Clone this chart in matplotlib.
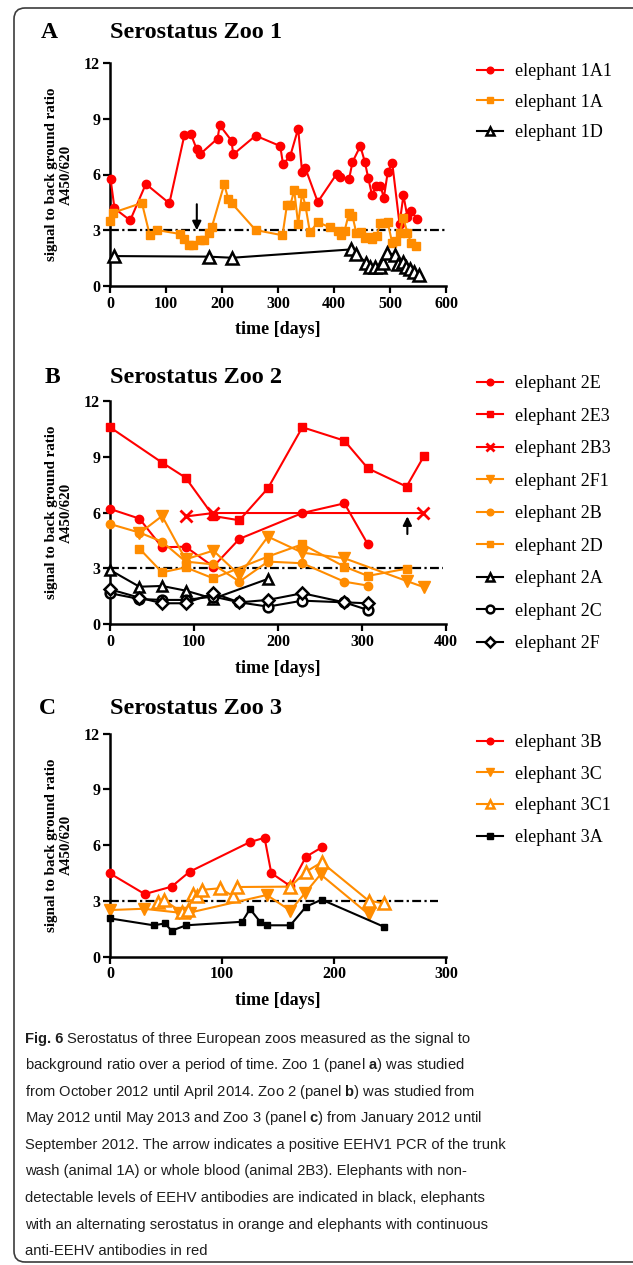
import matplotlib
matplotlib.use("Agg")
import matplotlib.pyplot as plt
from matplotlib import font_manager
from matplotlib.patches import FancyBboxPatch
from matplotlib.transforms import IdentityTransform

# ---- data ----
# Zoo 1
d_1A1 = [1, 8, 36, 64, 106, 133, 144, 155, 161, 192, 196, 217, 220, 260, 304, 309, 322, 336, 343, 349,
         371, 405, 411, 427, 433, 447, 455, 461, 468, 475, 483, 489, 496, 504, 517, 524, 531, 538, 548]
v_1A1 = [5.76, 4.18, 3.53, 5.49, 4.45, 8.14, 8.2, 7.35, 7.1, 7.93, 8.65, 7.82, 7.08, 8.09, 7.53, 6.55, 7.01, 8.47, 6.13, 6.33,
         4.52, 6.04, 5.87, 5.76, 6.67, 7.53, 6.69, 5.83, 4.88, 5.38, 5.38, 4.75, 6.13, 6.62, 3.34, 4.88, 3.73, 4.05, 3.6]
d_1A = [0, 6, 57, 71, 84, 125, 133, 141, 149, 161, 168, 176, 182, 204, 211, 217, 260, 308, 316, 322,
        329, 336, 343, 349, 357, 371, 392, 407, 413, 419, 427, 433, 440, 448, 455, 462, 468, 476, 483, 489,
        496, 504, 511, 517, 524, 531, 538, 546]
v_1A = [3.48, 3.95, 4.47, 2.74, 3.01, 2.8, 2.55, 2.2, 2.2, 2.48, 2.49, 2.83, 3.19, 5.47, 4.7, 4.47, 3.01, 2.73, 4.36, 4.36,
        5.15, 3.32, 5.02, 4.32, 2.89, 3.43, 3.17, 2.98, 2.73, 2.98, 3.95, 3.77, 2.83, 2.89, 2.58, 2.62, 2.51, 2.69, 3.41, 3.37,
        3.43, 2.3, 2.4, 2.83, 3.64, 2.87, 2.3, 2.15]
d_1D = [8, 176, 218, 431, 439, 458, 464, 473, 482, 488, 495, 509, 515, 523, 529, 536, 543, 551]
v_1D = [1.61, 1.58, 1.52, 1.97, 1.72, 1.26, 1.04, 1.0, 1.04, 1.22, 1.79, 1.67, 1.18, 1.31, 1.04, 0.9, 0.77, 0.59]

# Zoo 2
d_2E = [0, 35, 62, 90, 123, 154, 229, 279, 307]
v_2E = [6.2, 5.68, 4.14, 4.17, 3.1, 4.59, 5.98, 6.5, 4.3]
d_2E3 = [0, 62, 90, 123, 154, 188, 229, 279, 307, 353, 374]
v_2E3 = [10.59, 8.69, 7.88, 5.82, 5.59, 7.31, 10.59, 9.87, 8.38, 7.4, 9.06]
d_2B3 = [91, 123, 373]
v_2B3 = [5.8, 5.98, 5.98]
d_2F1 = [35, 62, 90, 123, 154, 188, 229, 279, 353, 374]
v_2F1 = [4.89, 5.82, 3.49, 3.96, 2.65, 4.71, 3.85, 3.55, 2.33, 1.99]
d_2B = [0, 35, 62, 90, 123, 154, 188, 229, 279, 307]
v_2B = [5.39, 4.93, 4.44, 3.37, 3.22, 2.29, 3.37, 3.28, 2.29, 2.08]
d_2D = [35, 62, 90, 123, 188, 229, 279, 307, 353]
v_2D = [4.07, 2.79, 3.06, 2.47, 3.64, 4.3, 3.1, 2.6, 2.99]
d_2A = [0, 35, 62, 90, 123, 188]
v_2A = [2.92, 2.02, 2.06, 1.81, 1.38, 2.44]
d_2C = [0, 35, 62, 90, 123, 154, 188, 229, 279, 307]
v_2C = [1.67, 1.36, 1.31, 1.31, 1.49, 1.18, 0.95, 1.27, 1.18, 0.77]
d_2F = [0, 35, 62, 90, 123, 154, 188, 229, 279, 307]
v_2F = [1.88, 1.43, 1.13, 1.13, 1.67, 1.18, 1.31, 1.67, 1.18, 1.13]

# Zoo 3
d_3B = [0, 31, 55, 71, 125, 138, 144, 161, 175, 189]
v_3B = [4.48, 3.37, 3.77, 4.57, 6.17, 6.4, 4.5, 3.8, 5.38, 5.88]
d_3C = [0, 30, 62, 71, 140, 161, 174, 188, 231]
v_3C = [2.51, 2.58, 2.37, 2.37, 3.32, 2.48, 3.41, 4.43, 2.28]
d_3C1 = [43, 48, 64, 70, 74, 78, 82, 98, 110, 113, 161, 175, 189, 231, 245]
v_3C1 = [2.92, 3.05, 2.4, 2.5, 3.35, 3.25, 3.6, 3.68, 3.26, 3.75, 3.77, 4.57, 5.08, 3.01, 2.87]
d_3A = [0, 39, 49, 55, 68, 118, 125, 134, 140, 161, 175, 189, 245]
v_3A = [2.06, 1.69, 1.79, 1.4, 1.69, 1.88, 2.57, 1.88, 1.69, 1.69, 2.69, 3.07, 1.6]

cutoff = 3.0
cutoff_end = [598, 396, 293]
x_max = [600, 400, 300]
x_step = [100, 100, 100]
titles = ["Serostatus Zoo 1", "Serostatus Zoo 2", "Serostatus Zoo 3"]
letters = ["A", "B", "C"]
# arrows: (panel, day, from, to)
arrows = [(0, 155, 4.4, 3.0), (1, 354, 4.85, 5.8)]

caption_head = "Fig. 6"
caption = [
    r"Serostatus of three European zoos measured as the signal to",
    r"background ratio over a period of time. Zoo 1 (panel $\mathbf{a}$) was studied",
    r"from October 2012 until April 2014. Zoo 2 (panel $\mathbf{b}$) was studied from",
    r"May 2012 until May 2013 and Zoo 3 (panel $\mathbf{c}$) from January 2012 until",
    r"September 2012. The arrow indicates a positive EEHV1 PCR of the trunk",
    r"wash (animal 1A) or whole blood (animal 2B3). Elephants with non-",
    r"detectable levels of EEHV antibodies are indicated in black, elephants",
    r"with an alternating serostatus in orange and elephants with continuous",
    r"anti-EEHV antibodies in red",
]

RED = "#ff0000"
ORG = "#ff8c00"
BLK = "#000000"

# series: (days, values, label, color, marker, markersize, filled)
panels = [
    [(d_1A1, v_1A1, "elephant 1A1", RED, "o", 6, True),
     (d_1A, v_1A, "elephant 1A", ORG, "s", 6, True),
     (d_1D, v_1D, "elephant 1D", BLK, "^", 8, False)],
    [(d_2E, v_2E, "elephant 2E", RED, "o", 6, True),
     (d_2E3, v_2E3, "elephant 2E3", RED, "s", 6, True),
     (d_2B3, v_2B3, "elephant 2B3", RED, "x", 8, True),
     (d_2F1, v_2F1, "elephant 2F1", ORG, "v", 8, True),
     (d_2B, v_2B, "elephant 2B", ORG, "o", 6, True),
     (d_2D, v_2D, "elephant 2D", ORG, "s", 6, True),
     (d_2A, v_2A, "elephant 2A", BLK, "^", 7, False),
     (d_2C, v_2C, "elephant 2C", BLK, "o", 7, False),
     (d_2F, v_2F, "elephant 2F", BLK, "D", 6, False)],
    [(d_3B, v_3B, "elephant 3B", RED, "o", 6, True),
     (d_3C, v_3C, "elephant 3C", ORG, "v", 8, True),
     (d_3C1, v_3C1, "elephant 3C1", ORG, "^", 8, False),
     (d_3A, v_3A, "elephant 3A", BLK, "s", 5, True)],
]

# ---- layout in pixels ----
W, H = 633, 1265
ax_px = [(110, 63, 446, 286), (110, 401, 446, 624.3), (110, 733.7, 446, 956.7)]
title_y = [33, 377, 708]
letter_x = [49, 52, 47]
legend_top = [63, 375, 734]
legend_sp = [0.76, 0.86, 0.81]

names = {f.name for f in font_manager.fontManager.ttflist}
narrow = "Liberation Sans Narrow" in names
cap_font = "Liberation Sans Narrow" if narrow else "Liberation Sans"
cap_size = 12.8 if narrow else 10.6

plt.rcParams["font.family"] = "Liberation Serif"
plt.rcParams["mathtext.fontset"] = "custom"
plt.rcParams["mathtext.rm"] = cap_font
plt.rcParams["mathtext.bf"] = cap_font + ":bold"

fig = plt.figure(figsize=(W / 100, H / 100), dpi=100)

# frame
frame = FancyBboxPatch((14, 3), 700, 1254, boxstyle="round,pad=0,rounding_size=11",
                       transform=IdentityTransform(), fill=False, ec="#3c3c3c", lw=1.2)
fig.patches.append(frame)

for i, series in enumerate(panels):
    x0, y0, x1, y1 = ax_px[i]
    ax = fig.add_axes([x0 / W, 1 - y1 / H, (x1 - x0) / W, (y1 - y0) / H])
    for d, v, lab, col, mk, ms, filled in series:
        if mk == "x":
            ax.plot(d, v, color=col, marker=mk, ms=ms, mew=2, lw=1.5, label=lab, clip_on=False, zorder=3)
        elif filled:
            ax.plot(d, v, color=col, marker=mk, ms=ms, lw=1.5, label=lab, clip_on=False, zorder=3)
        else:
            ax.plot(d, v, color=col, marker=mk, ms=ms, mfc="white", mec=col, mew=1.8, lw=1.5,
                    label=lab, clip_on=False, zorder=3)
    ax.plot([0, cutoff_end[i]], [cutoff, cutoff], color="k", lw=1.6,
            linestyle=(0, (4, 1.5, 1, 1.5)), zorder=2)
    for p, dx, a, b in arrows:
        if p == i:
            ax.annotate("", xy=(dx, b), xytext=(dx, a),
                        arrowprops=dict(arrowstyle="-|>", color="k", lw=1.5, mutation_scale=13,
                                        shrinkA=0, shrinkB=0), zorder=4)
    ax.set_xlim(0, x_max[i])
    ax.set_ylim(0, 12)
    ax.set_xticks(range(0, x_max[i] + 1, x_step[i]))
    ax.set_yticks([0, 3, 6, 9, 12])
    for s in ["top", "right"]:
        ax.spines[s].set_visible(False)
    for s in ["left", "bottom"]:
        ax.spines[s].set_linewidth(1.8)
    ax.tick_params(direction="out", length=5, width=1.6, labelsize=11.5, pad=2)
    for t in ax.get_xticklabels() + ax.get_yticklabels():
        t.set_fontweight("bold")
    ax.set_xlabel("time [days]", fontsize=13, fontweight="bold", labelpad=7)
    ax.text(-0.152, 0.5, "signal to back ground ratio\nA450/620", transform=ax.transAxes,
            rotation=90, ha="center", va="center", multialignment="center",
            fontsize=10.8, fontweight="bold", linespacing=1.25)
    ax.patch.set_alpha(0)

    fig.text(letter_x[i] / W, 1 - title_y[i] / H, letters[i], ha="center", va="center",
             fontsize=17, fontweight="bold")
    fig.text(x0 / W, 1 - title_y[i] / H, titles[i], ha="left", va="center",
             fontsize=17.5, fontweight="bold")

    ax.legend(loc="upper left", bbox_to_anchor=(477 / W, 1 - legend_top[i] / H),
              bbox_transform=fig.transFigure, frameon=False, borderpad=0, borderaxespad=0,
              handlelength=1.45, handletextpad=0.65, labelspacing=legend_sp[i],
              prop={"family": "Liberation Serif", "size": 13}, markerscale=0.8)

# caption
renderer = fig.canvas.get_renderer()
for k, line in enumerate(caption):
    yb = 1042.5 + k * 26.6
    x = 25
    if k == 0:
        head = fig.text(x / W, 1 - yb / H, caption_head, ha="left", va="baseline",
                        fontsize=cap_size, family=cap_font, fontweight="bold", color="#1e1e1e")
        x = head.get_window_extent(renderer).x1 + cap_size * 0.3
    fig.text(x / W, 1 - yb / H, line, ha="left", va="baseline",
             fontsize=cap_size, family=cap_font, color="#1e1e1e")

fig.savefig("out.png", dpi=100)
